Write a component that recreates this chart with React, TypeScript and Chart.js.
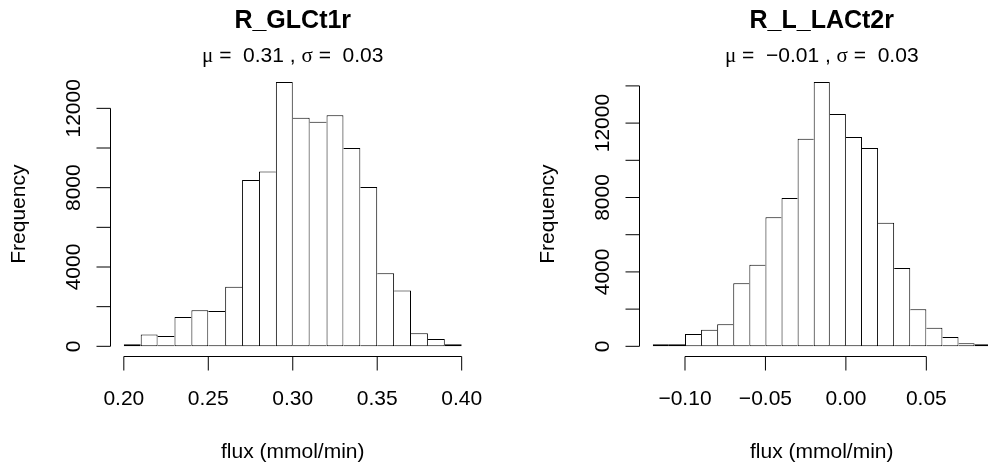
import React, { useEffect, useRef } from "react";
import { Chart, registerables } from "chart.js";

Chart.register(...registerables);

// ---------- data ----------
const BIN_WIDTH = 0.01;

const glcTitle = "R_GLCt1r";
const glcMu = "0.31";
const glcSigma = "0.03";
const glcBinStarts = [0.2, 0.21, 0.22, 0.23, 0.24, 0.25, 0.26, 0.27, 0.28, 0.29, 0.3, 0.31, 0.32, 0.33, 0.34, 0.35, 0.36, 0.37, 0.38, 0.39];
const glcCounts = [80, 600, 520, 1480, 1820, 1780, 3010, 8390, 8820, 13330, 11530, 11330, 11650, 10000, 8030, 3680, 2810, 660, 370, 50];
const glcXTicks = [0.2, 0.25, 0.3, 0.35, 0.4];
const glcXTickLabels = ["0.20", "0.25", "0.30", "0.35", "0.40"];
const glcYTicks = [0, 2000, 4000, 6000, 8000, 10000, 12000];
const glcYTickLabels = ["0", "", "4000", "", "8000", "", "12000"];

const lacTitle = "R_L_LACt2r";
const lacMu = "\u22120.01";
const lacSigma = "0.03";
const lacBinStarts = [-0.12, -0.11, -0.1, -0.09, -0.08, -0.07, -0.06, -0.05, -0.04, -0.03, -0.02, -0.01, 0.0, 0.01, 0.02, 0.03, 0.04, 0.05, 0.06, 0.07, 0.08];
const lacCounts = [36, 72, 663, 896, 1183, 3387, 4391, 6935, 7975, 11165, 14211, 12491, 11254, 10663, 6649, 4211, 1989, 1004, 502, 161, 36];
const lacXTicks = [-0.1, -0.05, 0.0, 0.05];
const lacXTickLabels = ["\u22120.10", "\u22120.05", "0.00", "0.05"];
const lacYTicks = [0, 2000, 4000, 6000, 8000, 10000, 12000, 14000];
const lacYTickLabels = ["0", "", "4000", "", "8000", "", "12000", ""];

const xAxisTitle = "flux (mmol/min)";
const yAxisTitle = "Frequency";

// ---------- styling ----------
const SANS = '"Liberation Sans", Arial, Helvetica, sans-serif';
const SERIF = '"Liberation Serif", "Times New Roman", serif';
const PANEL_W = 529;
const PANEL_H = 464;

const rAxesPlugin = {
  id: "rAxes",
  afterDraw(chart: any, _args: any, opts: any) {
    const ctx: CanvasRenderingContext2D = chart.ctx;
    const xs = chart.scales.x;
    const ys = chart.scales.y;
    const area = chart.chartArea;
    const cx = (area.left + area.right) / 2;
    const cy = (area.top + area.bottom) / 2;
    ctx.save();
    ctx.strokeStyle = "#000";
    ctx.fillStyle = "#000";
    ctx.lineWidth = 1;

    // x axis
    const axisY = Math.round(area.bottom - 0.5) + 0.5;
    const xt: number[] = opts.xTicks;
    const x0 = xs.getPixelForValue(xt[0]);
    const x1 = xs.getPixelForValue(xt[xt.length - 1]);
    ctx.beginPath();
    ctx.moveTo(x0, axisY);
    ctx.lineTo(x1, axisY);
    xt.forEach((v) => {
      const p = xs.getPixelForValue(v);
      ctx.moveTo(p, axisY);
      ctx.lineTo(p, axisY + 14);
    });
    ctx.stroke();
    ctx.font = `21px ${SANS}`;
    ctx.textAlign = "center";
    ctx.textBaseline = "alphabetic";
    xt.forEach((v, i) => {
      ctx.fillText(opts.xTickLabels[i], xs.getPixelForValue(v), 405);
    });
    ctx.fillText(opts.xTitle, cx, 458);

    // y axis
    const axisX = Math.round(area.left - 0.5) + 0.5;
    const yt: number[] = opts.yTicks;
    const y0 = ys.getPixelForValue(yt[0]);
    const y1 = ys.getPixelForValue(yt[yt.length - 1]);
    ctx.beginPath();
    ctx.moveTo(axisX, y0);
    ctx.lineTo(axisX, y1);
    yt.forEach((v) => {
      const p = ys.getPixelForValue(v);
      ctx.moveTo(axisX, p);
      ctx.lineTo(axisX - 14, p);
    });
    ctx.stroke();
    yt.forEach((v, i) => {
      const label = opts.yTickLabels[i];
      if (!label) return;
      ctx.save();
      ctx.translate(axisX - 31, ys.getPixelForValue(v));
      ctx.rotate(-Math.PI / 2);
      ctx.fillText(label, 0, 0);
      ctx.restore();
    });
    ctx.save();
    ctx.translate(axisX - 86, cy);
    ctx.rotate(-Math.PI / 2);
    ctx.fillText(opts.yTitle, 0, 0);
    ctx.restore();

    // title
    ctx.font = `bold 25px ${SANS}`;
    ctx.fillText(opts.title, cx, 28.3);

    // subtitle: mu = m , sigma = s
    const segs: { t: string; f: string }[] = [
      { t: "\u03BC", f: `21px ${SERIF}` },
      { t: " =  ", f: `21px ${SANS}` },
      { t: opts.mu, f: `21px ${SANS}` },
      { t: " , ", f: `21px ${SANS}` },
      { t: "\u03C3", f: `21px ${SERIF}` },
      { t: " =  ", f: `21px ${SANS}` },
      { t: opts.sigma, f: `21px ${SANS}` },
    ];
    let total = 0;
    const widths = segs.map((s) => {
      ctx.font = s.f;
      const w = ctx.measureText(s.t).width;
      total += w;
      return w;
    });
    let sx = cx - total / 2;
    ctx.textAlign = "left";
    segs.forEach((s, i) => {
      ctx.font = s.f;
      ctx.fillText(s.t, sx, 61.7);
      sx += widths[i];
    });
    ctx.restore();
  },
};

function borderWidthFor(counts: number[]) {
  return (c: any) => {
    const i = c.dataIndex ?? 0;
    const n = counts.length;
    const h = counts[i];
    return {
      top: 1,
      bottom: 1,
      left: i === 0 || counts[i - 1] < h ? 1 : 0,
      right: i === n - 1 || counts[i + 1] <= h ? 1 : 0,
    };
  };
}

type PanelProps = {
  left: number;
  title: string;
  mu: string;
  sigma: string;
  binStarts: number[];
  counts: number[];
  xTicks: number[];
  xTickLabels: string[];
  yTicks: number[];
  yTickLabels: string[];
};

function Panel(p: PanelProps) {
  const ref = useRef<HTMLCanvasElement | null>(null);
  useEffect(() => {
    if (!ref.current) return;
    const lo = p.binStarts[0];
    const hi = p.binStarts[p.binStarts.length - 1] + BIN_WIDTH;
    const xExt = 0.04 * (hi - lo);
    const yMax = Math.max(...p.counts);
    const chart = new Chart(ref.current, {
      type: "bar",
      data: {
        datasets: [
          {
            data: p.binStarts.map((s, i) => ({ x: s + BIN_WIDTH / 2, y: p.counts[i] })),
            backgroundColor: "#ffffff",
            borderColor: "#000000",
            borderWidth: borderWidthFor(p.counts) as any,
            borderSkipped: false,
            barPercentage: 1,
            categoryPercentage: 1,
            inflateAmount: 0,
            minBarLength: 2,
          } as any,
        ],
      },
      options: {
        animation: false,
        responsive: false,
        events: [],
        layout: { padding: { left: 110.3, right: 53.8, top: 71.4, bottom: 107.1 } },
        scales: {
          x: { type: "linear", display: false, offset: false, min: lo - xExt, max: hi + xExt },
          y: { type: "linear", display: false, min: -0.04 * yMax, max: 1.04 * yMax },
        },
        plugins: {
          legend: { display: false },
          tooltip: { enabled: false },
          title: { display: false },
          rAxes: {
            title: p.title,
            mu: p.mu,
            sigma: p.sigma,
            xTicks: p.xTicks,
            xTickLabels: p.xTickLabels,
            yTicks: p.yTicks,
            yTickLabels: p.yTickLabels,
            xTitle: xAxisTitle,
            yTitle: yAxisTitle,
          },
        } as any,
      },
      plugins: [rAxesPlugin as any],
    });
    return () => chart.destroy();
  }, []);
  return (
    <canvas
      ref={ref}
      width={PANEL_W}
      height={PANEL_H}
      style={{ position: "absolute", left: p.left, top: 0, width: PANEL_W, height: PANEL_H }}
    />
  );
}

export default function App() {
  return (
    <div
      style={{
        position: "fixed",
        left: 0,
        top: 0,
        width: 988,
        height: 464,
        overflow: "hidden",
        background: "#ffffff",
      }}
    >
      <Panel
        left={0}
        title={glcTitle}
        mu={glcMu}
        sigma={glcSigma}
        binStarts={glcBinStarts}
        counts={glcCounts}
        xTicks={glcXTicks}
        xTickLabels={glcXTickLabels}
        yTicks={glcYTicks}
        yTickLabels={glcYTickLabels}
      />
      <Panel
        left={529.1}
        title={lacTitle}
        mu={lacMu}
        sigma={lacSigma}
        binStarts={lacBinStarts}
        counts={lacCounts}
        xTicks={lacXTicks}
        xTickLabels={lacXTickLabels}
        yTicks={lacYTicks}
        yTickLabels={lacYTickLabels}
      />
    </div>
  );
}
